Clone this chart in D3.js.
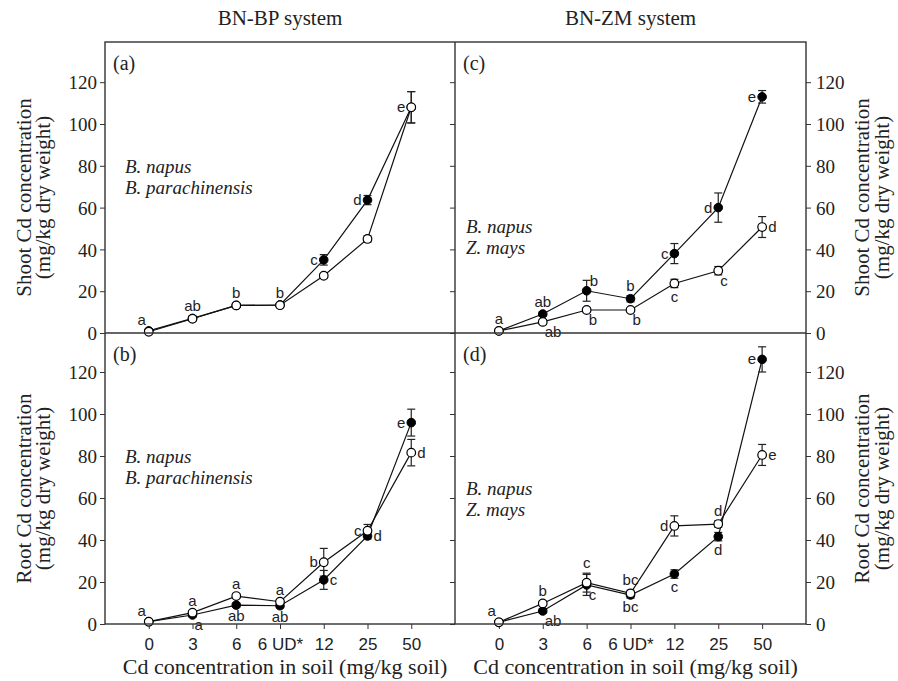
<!DOCTYPE html>
<html>
<head>
<meta charset="utf-8">
<script src="https://cdn.jsdelivr.net/npm/d3@7"></script>
<style>
  body { margin: 0; background: #fff; }
  svg { display: block; }
</style>
</head>
<body>
<svg id="chart" width="898" height="681"></svg>
<script>
// ── data ──────────────────────────────
const xLabels = ["0", "3", "6", "6 UD*", "12", "25", "50"];
const yTicks = [0, 20, 40, 60, 80, 100, 120];

// (a) shoot, BN-BP
const aNapus = [1, 7, 13.2, 13.4, 35, 63.6, 108];
const aNapusErr = [0.5, 1, 0.8, 0.8, 2.5, 2.2, 7.5];
const aNapusLet = ["a", "ab", "b", "b", "c", "d", "e"];
const aOther = [0.6, 6.8, 13.2, 13.3, 27.4, 45, 108];
const aOtherErr = [0.5, 1, 0.8, 0.8, 1, 1.5, 7.5];
const aOtherLet = ["", "", "", "", "", "", ""];

// (b) root, BN-BP
const bNapus = [1.1, 4.3, 9, 8.7, 21, 41.9, 95.9];
const bNapusErr = [0.5, 0.8, 1, 1, 4.5, 1.5, 6.4];
const bNapusLet = ["", "a", "ab", "ab", "c", "d", "e"];
const bOther = [1.1, 5.4, 13.3, 10.6, 29.4, 44.4, 81.6];
const bOtherErr = [0.5, 0.8, 1, 1, 6.6, 3, 6.3];
const bOtherLet = ["a", "a", "a", "a", "b", "c", "d"];

// (c) shoot, BN-ZM
const cNapus = [1, 9.1, 20.2, 16.4, 38, 60, 113];
const cNapusErr = [0.5, 1, 5, 1.5, 4.8, 7, 3];
const cNapusLet = ["a", "ab", "b", "b", "c", "d", "e"];
const cOther = [1, 5.3, 11, 11, 23.7, 29.8, 50.7];
const cOtherErr = [0.5, 1, 1, 0.8, 2, 2, 5];
const cOtherLet = ["", "ab", "b", "b", "c", "c", "d"];

// (d) root, BN-ZM
const dNapus = [0.8, 6.2, 18.6, 13.8, 23.8, 41.6, 126];
const dNapusErr = [0.5, 1, 5, 1.5, 2, 2, 6];
const dNapusLet = ["", "ab", "c", "bc", "c", "d", "e"];
const dOther = [0.8, 9.8, 19.7, 14.6, 46.7, 47.6, 80.5];
const dOtherErr = [0.5, 1, 4.5, 1.5, 4.8, 1.5, 5];
const dOtherLet = ["a", "b", "c", "bc", "d", "d", "e"];

// letter placement codes (t, b, l, r, tl, tr, br)
const aNapusPos = ["tl", "t", "t", "t", "l", "l", "l"];
const aOtherPos = ["", "", "", "", "", "", ""];
const bNapusPos = ["", "br", "b", "b", "r", "r", "l"];
const bOtherPos = ["tl", "t", "t", "t", "l", "l", "r"];
const cNapusPos = ["t", "t", "tr", "t", "l", "l", "l"];
const cOtherPos = ["", "br", "br", "br", "b", "br", "r"];
const dNapusPos = ["", "br", "br", "b", "b", "b", "l"];
const dOtherPos = ["tl", "t", "t", "t", "l", "t", "r"];

// ── layout ────────────────────────────
const svg = d3.select("#chart");
const L = 105, M = 455, R = 806;
const T = 42, MID = 333, B = 624;

const serif = "'Liberation Serif', 'Times New Roman', serif";
const sans = "'Liberation Sans', Arial, sans-serif";

const panels = [
  { id: "(a)", x0: L, x1: M, y0: T, y1: MID, napus: aNapus, napusErr: aNapusErr, napusLet: aNapusLet, napusPos: aNapusPos,
    other: aOther, otherErr: aOtherErr, otherLet: aOtherLet, otherPos: aOtherPos, sp: ["B. napus", "B. parachinensis"], spY: 173 },
  { id: "(b)", x0: L, x1: M, y0: MID, y1: B, napus: bNapus, napusErr: bNapusErr, napusLet: bNapusLet, napusPos: bNapusPos,
    other: bOther, otherErr: bOtherErr, otherLet: bOtherLet, otherPos: bOtherPos, sp: ["B. napus", "B. parachinensis"], spY: 463 },
  { id: "(c)", x0: M, x1: R, y0: T, y1: MID, napus: cNapus, napusErr: cNapusErr, napusLet: cNapusLet, napusPos: cNapusPos,
    other: cOther, otherErr: cOtherErr, otherLet: cOtherLet, otherPos: cOtherPos, sp: ["B. napus", "Z. mays"], spY: 233 },
  { id: "(d)", x0: M, x1: R, y0: MID, y1: B, napus: dNapus, napusErr: dNapusErr, napusLet: dNapusLet, napusPos: dNapusPos,
    other: dOther, otherErr: dOtherErr, otherLet: dOtherLet, otherPos: dOtherPos, sp: ["B. napus", "Z. mays"], spY: 495 }
];

const offs = {
  t:  { dx: 0,  dy: -7, anchor: "middle" },
  b:  { dx: 0,  dy: 16, anchor: "middle" },
  l:  { dx: -6, dy: 5,  anchor: "end" },
  r:  { dx: 6,  dy: 5,  anchor: "start" },
  tl: { dx: -3, dy: -6, anchor: "end" },
  tr: { dx: 3,  dy: -5, anchor: "start" },
  br: { dx: 2,  dy: 15, anchor: "start" }
};

panels.forEach(p => {
  const x = d3.scaleLinear().domain([-1, 7]).range([p.x0, p.x1]);
  const y = d3.scaleLinear().domain([0, (p.y1 - p.y0) / (p.y0 === T ? 2.09 : 2.1)]).range([p.y1, p.y0]);
  const g = svg.append("g");

  // left ticks (outward)
  g.append("g")
    .attr("transform", `translate(${p.x0},0)`)
    .call(d3.axisLeft(y).tickValues(yTicks).tickSize(5).tickFormat(p.x0 === L ? d3.format("d") : ""))
    .call(a => a.select(".domain").remove())
    .call(a => a.selectAll("line").attr("stroke", "#333"))
    .call(a => a.selectAll("text").attr("font-family", serif).attr("font-size", 19).attr("fill", "#222").attr("x", -8).attr("dy", "0.35em"));

  // right axis labels for right panels
  if (p.x1 === R) {
    g.append("g")
      .attr("transform", `translate(${R},0)`)
      .call(d3.axisRight(y).tickValues(yTicks).tickSize(5).tickFormat(d3.format("d")))
      .call(a => a.select(".domain").remove())
      .call(a => a.selectAll("line").attr("stroke", "#333"))
      .call(a => a.selectAll("text").attr("font-family", serif).attr("font-size", 19).attr("fill", "#222").attr("x", 10).attr("dy", "0.35em"));
  }

  // bottom x axis
  if (p.y1 === B) {
    g.append("g")
      .attr("transform", `translate(0,${B})`)
      .call(d3.axisBottom(x).tickValues(d3.range(7)).tickSize(5).tickFormat(i => xLabels[i]))
      .call(a => a.select(".domain").remove())
      .call(a => a.selectAll("line").attr("stroke", "#333"))
      .call(a => a.selectAll("text").attr("font-family", sans).attr("font-size", 17).attr("fill", "#222").attr("y", 14));
  }

  const line = d3.line().x((d, i) => x(i)).y(d => y(d));

  // lines
  [p.napus, p.other].forEach(s => {
    g.append("path").datum(s).attr("d", line)
      .attr("fill", "none").attr("stroke", "#111").attr("stroke-width", 1.2);
  });

  // error bars
  [[p.napus, p.napusErr], [p.other, p.otherErr]].forEach(([s, e]) => {
    s.forEach((v, i) => {
      const cx = x(i), yt = y(v + e[i]), yb = y(v - e[i]);
      g.append("line").attr("x1", cx).attr("x2", cx).attr("y1", yt).attr("y2", yb).attr("stroke", "#222").attr("stroke-width", 1.2);
      [yt, yb].forEach(yy => g.append("line").attr("x1", cx - 4).attr("x2", cx + 4).attr("y1", yy).attr("y2", yy).attr("stroke", "#222").attr("stroke-width", 1.2));
    });
  });

  // markers: filled (B. napus) under open
  g.selectAll(null).data(p.napus).join("circle")
    .attr("cx", (d, i) => x(i)).attr("cy", d => y(d)).attr("r", 4.3)
    .attr("fill", "#000").attr("stroke", "#000").attr("stroke-width", 1);
  g.selectAll(null).data(p.other).join("circle")
    .attr("cx", (d, i) => x(i)).attr("cy", d => y(d)).attr("r", 4.3)
    .attr("fill", "#fff").attr("stroke", "#000").attr("stroke-width", 1.2);

  // significance letters (above / below clear the error bar)
  [[p.napus, p.napusErr, p.napusLet, p.napusPos], [p.other, p.otherErr, p.otherLet, p.otherPos]].forEach(([s, e, lets, pos]) => {
    s.forEach((v, i) => {
      if (!lets[i]) return;
      const o = offs[pos[i]];
      let yy = y(v) + o.dy;
      if (pos[i] === "t") yy = Math.min(yy, y(v + e[i]) - 5);
      if (pos[i] === "b") yy = Math.max(yy, y(v - e[i]) + 14);
      g.append("text")
        .attr("x", x(i) + o.dx).attr("y", yy)
        .attr("text-anchor", o.anchor)
        .attr("font-family", sans).attr("font-size", 15).attr("fill", "#222")
        .text(lets[i]);
    });
  });

  // panel id & species
  g.append("text").attr("x", p.x0 + 8).attr("y", p.y0 + 28)
    .attr("font-family", serif).attr("font-size", 20).attr("fill", "#222").text(p.id);
  p.sp.forEach((t, i) => {
    g.append("text").attr("x", p.x0 + (p.x0 === L ? 20 : 11)).attr("y", p.spY + i * 21)
      .attr("font-family", serif).attr("font-style", "italic").attr("font-size", 19).attr("fill", "#222").text(t);
  });
});

// frame
svg.append("rect").attr("x", L).attr("y", T).attr("width", R - L).attr("height", B - T)
  .attr("fill", "none").attr("stroke", "#333").attr("stroke-width", 1.4);
svg.append("line").attr("x1", M).attr("x2", M).attr("y1", T).attr("y2", B).attr("stroke", "#333").attr("stroke-width", 1.4);
svg.append("line").attr("x1", L).attr("x2", R).attr("y1", MID).attr("y2", MID).attr("stroke", "#333").attr("stroke-width", 1.4);

// titles
[["BN-BP system", (L + M) / 2], ["BN-ZM system", (M + R) / 2]].forEach(([t, cx]) => {
  svg.append("text").attr("x", cx).attr("y", 25).attr("text-anchor", "middle")
    .attr("font-family", serif).attr("font-size", 21).attr("fill", "#222").text(t);
  svg.append("text").attr("x", cx + 5).attr("y", 674).attr("text-anchor", "middle")
    .attr("font-family", serif).attr("font-size", 22).attr("fill", "#222").text("Cd concentration in soil (mg/kg soil)");
});

// y titles
const yTitles = [
  ["Shoot Cd concentration", (T + MID) / 2 + 10],
  ["Root Cd concentration", (MID + B) / 2 + 10]
];
yTitles.forEach(([t, cy]) => {
  [[31, 50], [869, 889]].forEach(([x1, x2]) => {
    svg.append("text").attr("transform", `translate(${x1},${cy}) rotate(-90)`).attr("text-anchor", "middle")
      .attr("font-family", serif).attr("font-size", 21).attr("fill", "#222").text(t);
    svg.append("text").attr("transform", `translate(${x2},${cy}) rotate(-90)`).attr("text-anchor", "middle")
      .attr("font-family", serif).attr("font-size", 21).attr("fill", "#222").text("(mg/kg dry weight)");
  });
});
</script>
</body>
</html>
